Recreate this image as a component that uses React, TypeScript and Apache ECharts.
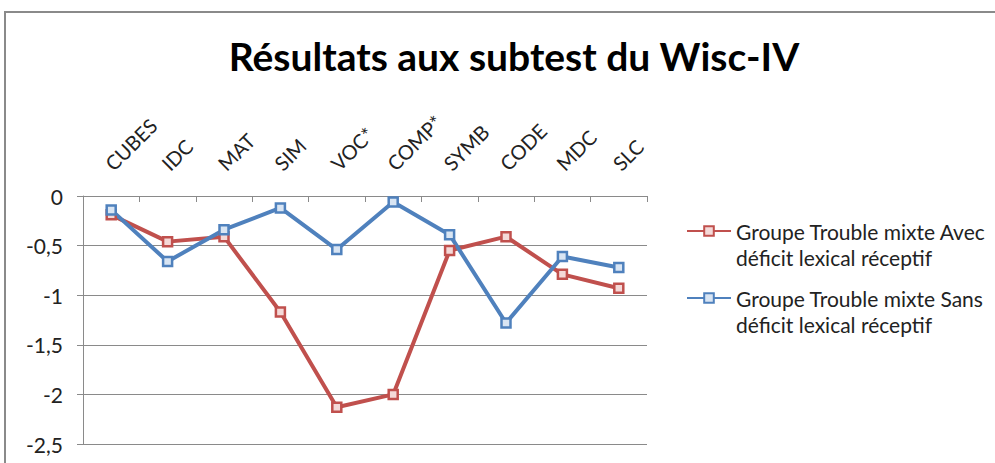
import React, { useEffect, useRef } from "react";
import * as echarts from "echarts";

const categories = ["CUBES", "IDC", "MAT", "SIM", "VOC*", "COMP*", "SYMB", "CODE", "MDC", "SLC"];
const avecValues = [-0.19, -0.46, -0.41, -1.17, -2.13, -2.0, -0.55, -0.41, -0.79, -0.93];
const sansValues = [-0.14, -0.66, -0.34, -0.12, -0.54, -0.06, -0.39, -1.28, -0.61, -0.72];
const seriesNames = [
  "Groupe Trouble mixte Avec\ndéficit lexical réceptif",
  "Groupe Trouble mixte Sans\ndéficit lexical réceptif",
];
const titleText = "Résultats aux subtest du Wisc-IV";

const RED = "#c0504d";
const BLUE = "#4f81bd";
const FONT = "Lato, 'Open Sans', sans-serif";

function legendFor(name: string, top: number) {
  return {
    orient: "vertical",
    left: 686,
    top,
    padding: 0,
    itemWidth: 44,
    itemHeight: 12,
    data: [name],
    formatter: (n: string) => " \n" + n,
    textStyle: {
      fontFamily: FONT,
      fontSize: 21,
      lineHeight: 26,
      color: "#222",
    },
  };
}

export default function App() {
  const ref = useRef<HTMLDivElement>(null);
  useEffect(() => {
    if (!ref.current) return;
    const chart = echarts.init(ref.current, undefined, { renderer: "svg" });
    chart.setOption({
      animation: false,
      backgroundColor: "#ffffff",
      title: {
        text: titleText,
        left: 509,
        top: 31,
        textAlign: "center",
        textStyle: { fontFamily: FONT, fontWeight: "bold", fontSize: 39, color: "#000" },
      },
      graphic: [
        { type: "line", shape: { x1: 4, y1: 12, x2: 995, y2: 12 }, style: { stroke: "#8a8a8a", lineWidth: 2 } },
        { type: "line", shape: { x1: 5, y1: 12, x2: 5, y2: 463 }, style: { stroke: "#8a8a8a", lineWidth: 2 } },
      ],
      legend: [legendFor(seriesNames[0], 192), legendFor(seriesNames[1], 259)],
      grid: { left: 83, top: 196, width: 564, height: 248, containLabel: false },
      xAxis: {
        type: "category",
        position: "top",
        data: categories,
        boundaryGap: true,
        axisLine: { show: true, lineStyle: { color: "#8a8a8a", width: 1 } },
        axisTick: { show: true, inside: true, length: 6, lineStyle: { color: "#8a8a8a" } },
        axisLabel: {
          rotate: 45,
          align: "left",
          verticalAlign: "bottom",
          margin: 18,
          padding: [0, 0, 0, 6],
          fontFamily: FONT,
          fontSize: 20,
          color: "#222",
          interval: 0,
        },
        splitLine: { show: false },
      },
      yAxis: {
        type: "value",
        min: -2.5,
        max: 0,
        interval: 0.5,
        axisLine: { show: true, lineStyle: { color: "#8a8a8a", width: 1 } },
        axisTick: { show: true, length: 6, lineStyle: { color: "#8a8a8a" } },
        axisLabel: {
          margin: 20,
          fontFamily: FONT,
          fontSize: 21,
          color: "#222",
          formatter: (v: number) => String(v).replace(".", ","),
        },
        splitLine: { show: true, lineStyle: { color: "#8a8a8a", width: 1 } },
      },
      series: [
        {
          name: seriesNames[0],
          type: "line",
          data: avecValues,
          symbol: "rect",
          symbolSize: 9,
          color: RED,
          lineStyle: { color: RED, width: 4 },
          itemStyle: { color: "#f4d9d8", borderColor: RED, borderWidth: 2.5 },
        },
        {
          name: seriesNames[1],
          type: "line",
          data: sansValues,
          symbol: "rect",
          symbolSize: 9,
          color: BLUE,
          lineStyle: { color: BLUE, width: 4 },
          itemStyle: { color: "#d9e5f3", borderColor: BLUE, borderWidth: 2.5 },
        },
      ],
    });
    return () => chart.dispose();
  }, []);
  return (
    <div
      ref={ref}
      style={{ position: "fixed", left: 0, top: 0, width: 995, height: 463 }}
    />
  );
}
